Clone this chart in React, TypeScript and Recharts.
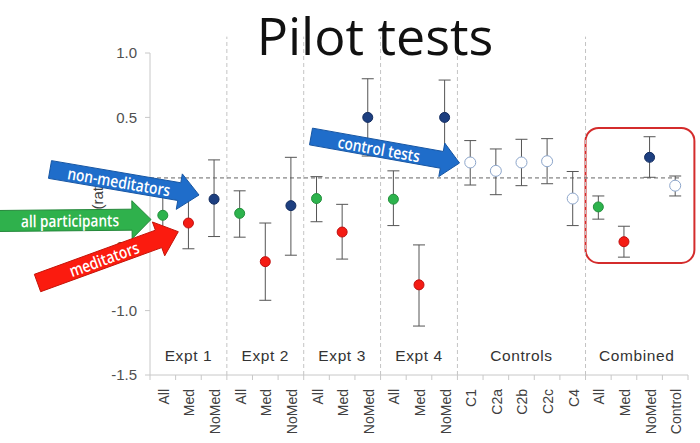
import React from 'react';
import {
  ComposedChart,
  Scatter,
  XAxis,
  YAxis,
  ErrorBar,
  ReferenceLine,
  ReferenceArea,
} from 'recharts';

// ---- data ----
const categories = [
  'All', 'Med', 'NoMed',
  'All', 'Med', 'NoMed',
  'All', 'Med', 'NoMed',
  'All', 'Med', 'NoMed',
  'C1', 'C2a', 'C2b', 'C2c', 'C4',
  'All', 'Med', 'NoMed', 'Control',
];
const kinds = [
  'all', 'med', 'nomed',
  'all', 'med', 'nomed',
  'all', 'med', 'nomed',
  'all', 'med', 'nomed',
  'ctrl', 'ctrl', 'ctrl', 'ctrl', 'ctrl',
  'all', 'med', 'nomed', 'ctrl',
];
const groupNames = ['Expt 1', 'Expt 2', 'Expt 3', 'Expt 4', 'Controls', 'Combined'];
const groupSizes = [3, 3, 3, 3, 5, 4];
const means = [
  -0.26, -0.32, -0.135,
  -0.245, -0.62, -0.185,
  -0.13, -0.39, 0.5,
  -0.135, -0.8, 0.5,
  0.15, 0.085, 0.15, 0.16, -0.13,
  -0.195, -0.465, 0.19, -0.03,
];
const lows = [
  -0.43, -0.52, -0.425,
  -0.43, -0.92, -0.57,
  -0.31, -0.6, 0.2,
  -0.34, -1.12, 0.21,
  -0.025, -0.1, -0.03, -0.015, -0.34,
  -0.29, -0.585, 0.035, -0.11,
];
const highs = [
  -0.09, -0.12, 0.17,
  -0.07, -0.32, 0.19,
  0.04, -0.175, 0.8,
  0.085, -0.49, 0.79,
  0.32, 0.255, 0.33, 0.335, 0.08,
  -0.11, -0.345, 0.35, 0.045,
];
const yTicks = [-1.5, -1.0, -0.5, 0, 0.5, 1.0];
const noEffectLine = 0.03;

// ---- derived tables ----
const rows = categories.map((c, i) => ({
  x: i + 0.5,
  y: means[i],
  err: [means[i] - lows[i], highs[i] - means[i]],
  kind: kinds[i],
  label: c,
}));
const xTicks = rows.map((r) => r.x);
const boundaries: number[] = [];
groupSizes.reduce((acc, s) => {
  boundaries.push(acc + s);
  return acc + s;
}, 0);
const groupStarts = boundaries.map((b, i) => b - groupSizes[i]);

const COLORS: Record<string, { fill: string; stroke: string }> = {
  all: { fill: '#2db34d', stroke: '#23903c' },
  med: { fill: '#f41c14', stroke: '#c01010' },
  nomed: { fill: '#1d3f80', stroke: '#142d60' },
  ctrl: { fill: '#ffffff', stroke: '#8da6cb' },
};

const AXIS_FONT = '"Liberation Sans", Arial, sans-serif';
const NUM_CATS = categories.length;

const dot = (kind: string) => (p: any) => {
  const c = COLORS[kind];
  return (
    <circle
      cx={p.cx}
      cy={p.cy}
      r={kind === 'ctrl' ? 5.5 : 5}
      fill={c.fill}
      stroke={c.stroke}
      strokeWidth={1}
    />
  );
};

const XTick = (props: any) => {
  const { x, y, index, width } = props;
  const band = (width || 537.6) / NUM_CATS;
  const label = categories[index] ?? '';
  return (
    <g>
      <line x1={x - band / 2} y1={y} x2={x - band / 2} y2={y + 5} stroke="#c8c8c8" />
      {index === NUM_CATS - 1 && (
        <line x1={x + band / 2} y1={y} x2={x + band / 2} y2={y + 5} stroke="#c8c8c8" />
      )}
      <text
        transform={`translate(${x + 1},${y}) rotate(-90)`}
        x={-14}
        y={0}
        textAnchor="end"
        dominantBaseline="central"
        fontSize={14}
        fontFamily={AXIS_FONT}
        fill="#404040"
      >
        {label}
      </text>
    </g>
  );
};

function arrowPoints(x0: number, y0: number, x1: number, y1: number, w: number, hw: number, hl: number) {
  const dx = x1 - x0;
  const dy = y1 - y0;
  const L = Math.hypot(dx, dy);
  const ux = dx / L;
  const uy = dy / L;
  const nx = -uy;
  const ny = ux;
  const bx = x1 - ux * hl;
  const by = y1 - uy * hl;
  const pts = [
    [x0 + (nx * w) / 2, y0 + (ny * w) / 2],
    [bx + (nx * w) / 2, by + (ny * w) / 2],
    [bx + (nx * hw) / 2, by + (ny * hw) / 2],
    [x1, y1],
    [bx - (nx * hw) / 2, by - (ny * hw) / 2],
    [bx - (nx * w) / 2, by - (ny * w) / 2],
    [x0 - (nx * w) / 2, y0 - (ny * w) / 2],
  ];
  return pts.map((p) => p.join(',')).join(' ');
}

type ArrowSpec = {
  x0: number; y0: number; x1: number; y1: number;
  w: number; hw: number; hl: number;
  fill: string; stroke: string;
  text: string; tx: number; len: number;
};

const arrows: ArrowSpec[] = [
  { x0: -4, y0: 221, x1: 151, y1: 219.5, w: 21, hw: 38, hl: 19, fill: '#2fb14c', stroke: '#24873a', text: 'all participants', tx: 70, len: 98 },
  { x0: 50, y0: 169.5, x1: 199, y1: 195, w: 18, hw: 36, hl: 20, fill: '#1f6dca', stroke: '#1756a3', text: 'non-meditators', tx: 119, len: 104 },
  { x0: 37.5, y0: 283, x1: 178.3, y1: 231.7, w: 18.5, hw: 36, hl: 21, fill: '#fb1b0f', stroke: '#c41409', text: 'meditators', tx: 104, len: 73 },
  { x0: 311, y0: 136.5, x1: 459.5, y1: 163, w: 17, hw: 34, hl: 18, fill: '#1f6dca', stroke: '#1756a3', text: 'control tests', tx: 379, len: 83 },
];

const Arrow = ({ a }: { a: ArrowSpec }) => {
  const ang = (Math.atan2(a.y1 - a.y0, a.x1 - a.x0) * 180) / Math.PI;
  const ty = a.y0 + ((a.tx - a.x0) * (a.y1 - a.y0)) / (a.x1 - a.x0);
  return (
    <g>
      <polygon points={arrowPoints(a.x0, a.y0, a.x1, a.y1, a.w, a.hw, a.hl)} fill={a.fill} stroke={a.stroke} strokeWidth={1} />
      <text
        transform={`translate(${a.tx},${ty}) rotate(${ang})`}
        x={0}
        y={0}
        textAnchor="middle"
        dominantBaseline="central"
        fontSize={16.5}
        fontFamily='"Open Sans", sans-serif'
        fontWeight={600}
        fill="#ffffff"
        textLength={a.len}
        lengthAdjust="spacingAndGlyphs"
      >
        {a.text}
      </text>
    </g>
  );
};

export default function App() {
  return (
    <div style={{ position: 'absolute', left: 0, top: 0, width: 700, height: 443, background: '#fff' }}>
      <ComposedChart
        width={700}
        height={443}
        data={rows}
        margin={{ top: 53, right: 12, bottom: 8, left: 90 }}
      >
        <XAxis
          dataKey="x"
          type="number"
          domain={[0, NUM_CATS]}
          ticks={xTicks}
          interval={0}
          tick={<XTick />}
          tickLine={false}
          tickSize={0}
          tickMargin={0}
          axisLine={{ stroke: '#c8c8c8' }}
          height={60}
        />
        <YAxis
          dataKey="y"
          type="number"
          domain={[-1.5, 1]}
          ticks={yTicks}
          tickFormatter={(v: number) => v.toFixed(1)}
          tick={{ fontSize: 15, fill: '#505050', fontFamily: AXIS_FONT }}
          tickLine={{ stroke: '#c8c8c8' }}
          tickSize={5}
          tickMargin={8}
          axisLine={{ stroke: '#c8c8c8' }}
          width={60}
        />
        {boundaries.slice(0, -1).map((b) => (
          <ReferenceLine
            key={`sep${b}`}
            segment={[{ x: b, y: -1.5 }, { x: b, y: 1.127 }]}
            stroke="#c4c4c4"
            strokeDasharray="4 3"
            ifOverflow="visible"
          />
        ))}
        <ReferenceLine
          segment={[{ x: 0, y: noEffectLine }, { x: 20.65, y: noEffectLine }]}
          stroke="#666"
          strokeDasharray="4 3"
          ifOverflow="visible"
        />
        {groupNames.map((g, i) => (
          <ReferenceArea
            key={g}
            x1={groupStarts[i]}
            x2={boundaries[i]}
            y1={-1.5}
            y2={-1.19}
            fill="transparent"
            fillOpacity={0}
            stroke="none"
            ifOverflow="visible"
            label={{ value: g, position: 'center', fill: '#333', fontSize: 15.5, fontFamily: AXIS_FONT, letterSpacing: 0.6 }}
          />
        ))}
        {(['all', 'med', 'nomed', 'ctrl'] as const).map((k) => (
          <Scatter
            key={k}
            data={rows.filter((r) => r.kind === k)}
            dataKey="y"
            isAnimationActive={false}
            shape={dot(k)}
          >
            <ErrorBar dataKey="err" direction="y" width={6} stroke="#555" strokeWidth={1} />
          </Scatter>
        ))}
        <ReferenceArea
          x1={17}
          x2={21.25}
          y1={-0.63}
          y2={0.418}
          ifOverflow="visible"
          shape={(p: any) => (
            <rect x={p.x} y={p.y} width={p.width} height={p.height} rx={13} ry={13} fill="none" stroke="#d42c2c" strokeWidth={2} />
          )}
        />
      </ComposedChart>
      <svg
        width={700}
        height={443}
        style={{ position: 'absolute', left: 0, top: 0, pointerEvents: 'none' }}
      >
        <text x={375} y={55} textAnchor="middle" fontSize={52} fontFamily='"Open Sans", sans-serif' fill="#111">
          Pilot tests
        </text>
        <text
          transform="translate(97,190) rotate(-90)"
          textAnchor="middle"
          dominantBaseline="central"
          fontSize={15}
          fontFamily={AXIS_FONT}
          fill="#404040"
        >
          (ratio)
        </text>
        {arrows.map((a) => (
          <Arrow key={a.text} a={a} />
        ))}
      </svg>
    </div>
  );
}
